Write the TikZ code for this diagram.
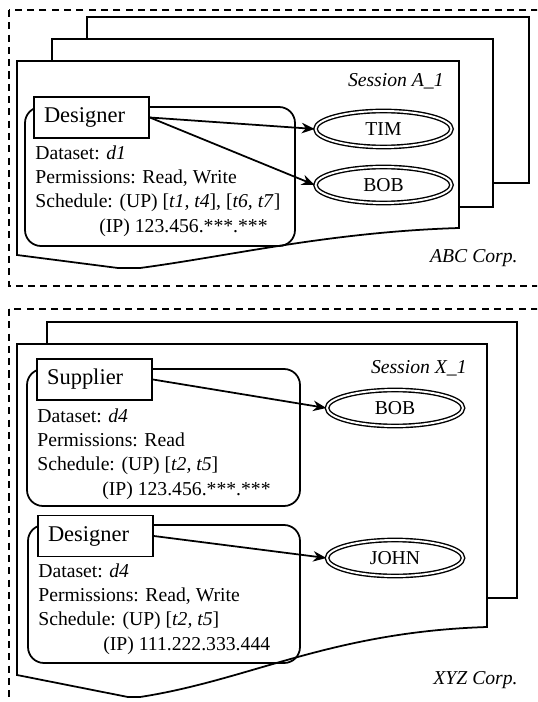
\documentclass[tikz,border=0pt]{standalone}
\usepackage{fontspec}
\setmainfont{Liberation Serif}
\usepackage{tikz}
\usetikzlibrary{arrows.meta}
\usetikzlibrary{shapes.geometric}

\tikzset{
	sheet/.style={draw, fill=white, line width=1pt},
	frame/.style={draw, line width=1pt, dash pattern=on 4pt off 3pt},
	grant/.style={draw, line width=1pt, rounded corners=0.32cm},
	role/.style={draw, fill=white, line width=1pt, minimum height=0.82cm, text width=1.9cm, inner xsep=0.2cm, inner ysep=0pt, align=left, font=\fontsize{12.8}{15}\selectfont},
	user/.style={ellipse, draw, double, line width=0.8pt, double distance=1.1pt, minimum width=2.72cm, minimum height=0.72cm, inner sep=0pt, font=\fontsize{11.2}{13.9}\selectfont},
	info/.style={anchor=north west, align=left, inner sep=0pt, font=\fontsize{11.2}{13.9}\selectfont},
	tag/.style={anchor=east, inner sep=0pt, font=\fontsize{11.2}{13.9}\selectfont\itshape},
	link/.style={-{Stealth[length=7.5pt, width=6pt]}, line width=1pt}
}

\begin{document}
\begin{tikzpicture}[x=0.02cm, y=-0.02cm]
	\useasboundingbox (0,0) rectangle (537,702);
	\clip (0,0) rectangle (537,702);

		% ABC Corp.
		\draw[frame] (9,10) rectangle (545,286);
		\draw[sheet] (87,17) rectangle (529,183);
		\draw[sheet] (52,39) rectangle (493,207);
		\draw[sheet] (17,61) -- (459,61) -- (459,228) .. controls (330,232) and (230,256) .. (140,268) -- (118,268) -- (17,255) -- cycle;
		\draw[grant] (25,107) rectangle (295,246);

		\node[role] (D) at (91.5,117.5) {Designer};
		\node[info] (DI) at (35,145) {Dataset: \textit{d1}\\
			Permissions: Read, Write\\
			Schedule: (UP) [\textit{t1, t4}], [\textit{t6, t7}]\\
			\hspace*{3.25em}(IP) 123.456.***.***};
		\node[user] (T) at (383.5,129) {TIM};
		\node[user] (B) at (383.5,185) {BOB};
		\draw[link] (D.east) -- (T.west);
		\draw[link] (D.east) -- (B.west);

		\node[tag] (SA) at (444,81) {Session A\_1};
		\node[tag] (CA) at (518,258) {ABC Corp.};

		% XYZ Corp.
		\draw[frame] (9,309) rectangle (545,720);
		\draw[sheet] (47,322) rectangle (517,598);
		\draw[sheet] (17,344) -- (487,344) -- (487,627) .. controls (330,632) and (250,680) .. (140,697) -- (128,697) -- (17,675) -- cycle;
		\draw[grant] (27,369) rectangle (300,506);
		\draw[grant] (28,525) rectangle (300,663);

		\node[role] (S) at (94.5,379.5) {Supplier};
		\node[info] (SI) at (37,408) {Dataset: \textit{d4}\\
			Permissions: Read\\
			Schedule: (UP) [\textit{t2, t5}]\\
			\hspace*{3.3em}(IP) 123.456.***.***};
		\node[user] (B2) at (395,408) {BOB};
		\draw[link] (S.east) -- (B2.west);

		\node[role] (D2) at (95.5,536) {Designer};
		\node[info] (DI2) at (38,563) {Dataset: \textit{d4}\\
			Permissions: Read, Write\\
			Schedule: (UP) [\textit{t2, t5}]\\
			\hspace*{3.3em}(IP) 111.222.333.444};
		\node[user] (J) at (395,558) {JOHN};
		\draw[link] (D2.east) -- (J.west);

		\node[tag] (SX) at (467,368) {Session X\_1};
		\node[tag] (CX) at (518,680) {XYZ Corp.};
\end{tikzpicture}
\end{document}
